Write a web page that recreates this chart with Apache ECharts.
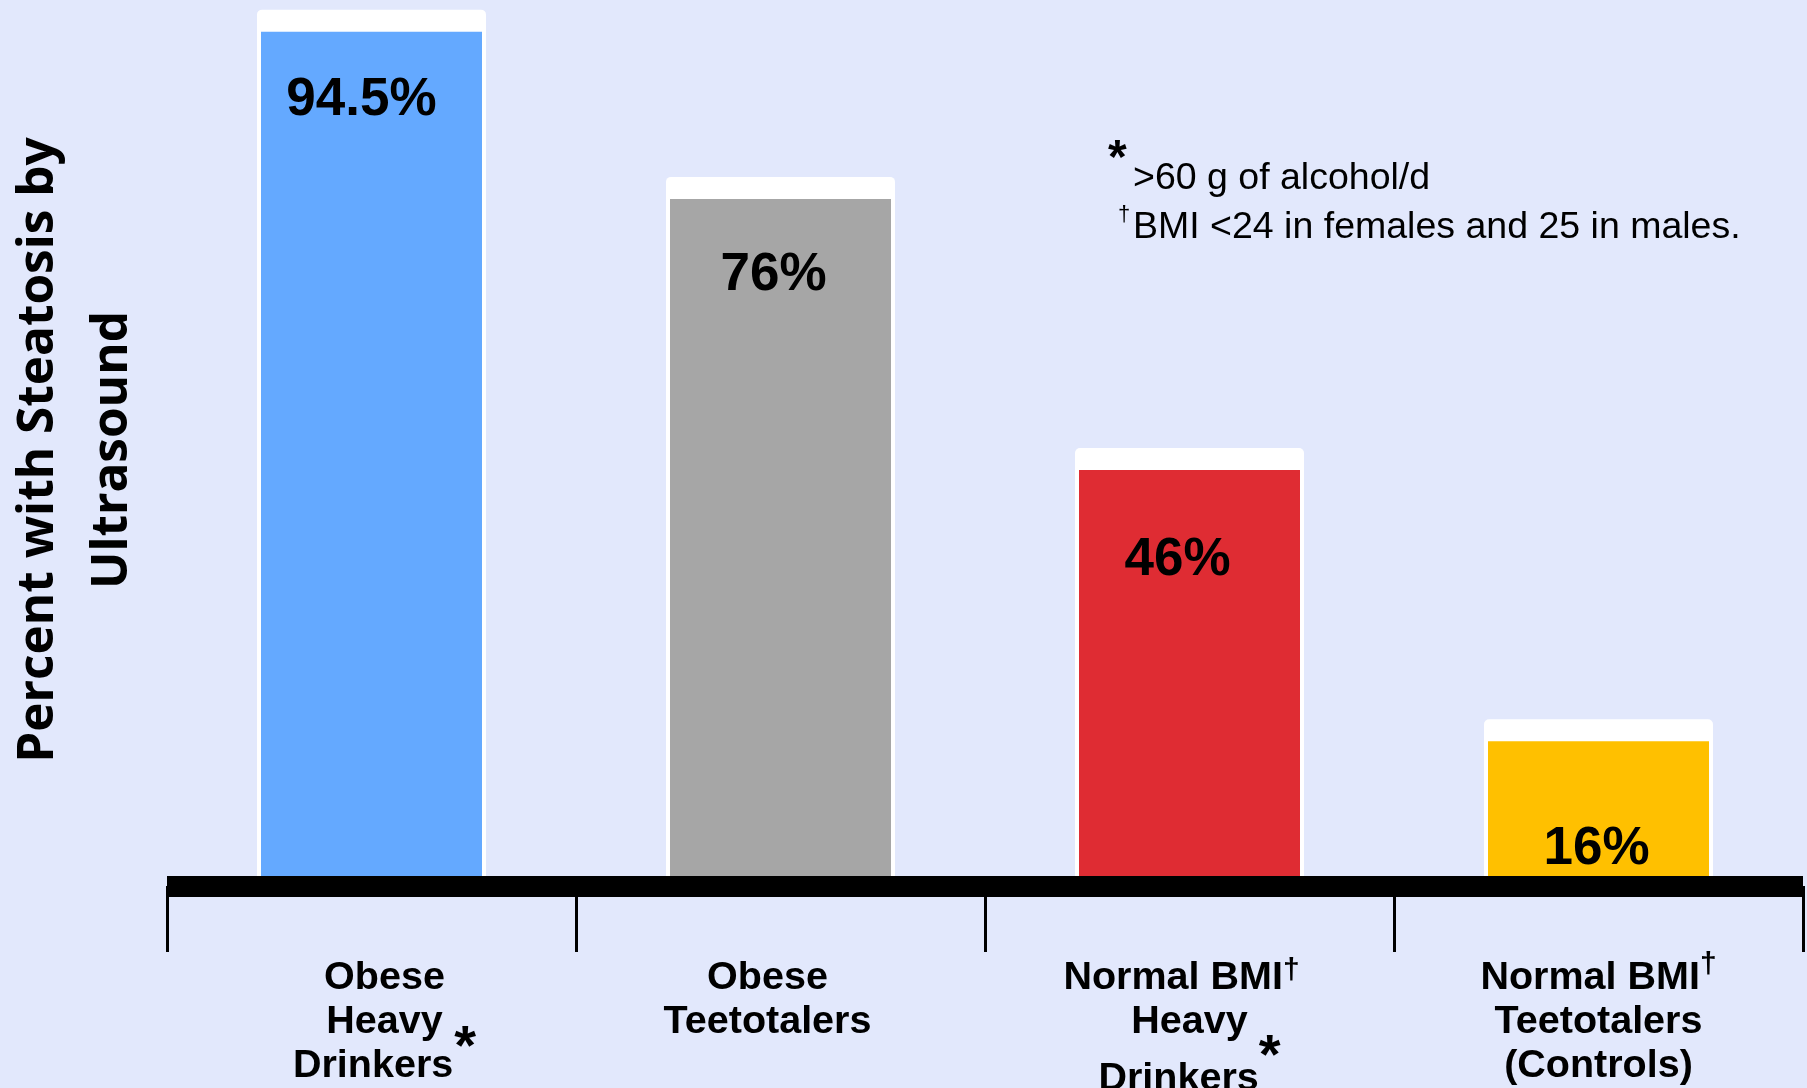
<!DOCTYPE html>
<html>
<head>
<meta charset="utf-8">
<script src="https://cdn.jsdelivr.net/npm/echarts@6/dist/echarts.min.js"></script>
<style>
  html, body { margin: 0; padding: 0; background: #E2E8FC; }
  #chart { width: 1807px; height: 1088px; }
</style>
</head>
<body>
<div id="chart"></div>
<script>
// Groups compared (one bar each)
const categories = [
  'Obese Heavy Drinkers',
  'Obese Teetotalers',
  'Normal BMI Heavy Drinkers',
  'Normal BMI Teetotalers (Controls)'
];
// Multi-line axis labels with footnote markers
const categoryLabels = [
  '{r|Obese}\n{r|Heavy}\n{r|Drinkers}{sup|*}',
  '{l|Obese}\n{l|Teetotalers}',
  'Normal BMI{dag|†}\nHeavy\n{tall|Drinkers}{sup3|*}',
  'Normal BMI{dag4|†}\nTeetotalers\n(Controls)'
];
// Percent with steatosis by ultrasound
const steatosisPct = [94.5, 76, 46, 16];

// Footnotes
const footnoteStar = '>60 g of alcohol/d';
const footnoteDagger = 'BMI <24 in females and 25 in males.';

// ---- styling ----
const barColors = ['#64A9FF', '#A6A6A6', '#DF2C33', '#FFC000'];
const labelDistance = [41, 48, 62, 80];
const labelShiftX = [-10, -7, -12, -2];
const ARIAL = '"Liberation Sans", Arial, sans-serif';
const BAR_W = 221;
const FRAME_W = 229;
const CAP_H = 22;

const catText = { fontFamily: ARIAL, fontWeight: 'bold', fontSize: 39.5, lineHeight: 44, color: '#000' };

const chart = echarts.init(document.getElementById('chart'), null, { renderer: 'canvas' });

chart.setOption({
  backgroundColor: '#E2E8FC',
  animation: false,
  grid: { left: 167, right: 4, top: 0, bottom: 202, containLabel: false, outerBoundsMode: 'none' },
  xAxis: {
    type: 'category',
    data: categories,
    z: 10,
    axisLine: { lineStyle: { color: '#000', width: 21, cap: 'butt' } },
    axisTick: { show: true, length: 66, lineStyle: { color: '#000', width: 3, cap: 'butt' } },
    axisLabel: Object.assign({
      interval: 0,
      margin: 70,
      formatter: (v, i) => categoryLabels[i],
      rich: {
        r: Object.assign({ padding: [0, 0, 0, 26] }, catText),
        l: Object.assign({ padding: [0, 26, 0, 0] }, catText),
        sup: { fontFamily: ARIAL, fontWeight: 'bold', fontSize: 56, lineHeight: 44, height: 10, verticalAlign: 'top', padding: [0, 0, 0, 1], color: '#000' },
        sup3: { fontFamily: ARIAL, fontWeight: 'bold', fontSize: 56, lineHeight: 55, height: 27, verticalAlign: 'top', color: '#000' },
        tall: { fontFamily: ARIAL, fontWeight: 'bold', fontSize: 39.5, lineHeight: 55, verticalAlign: 'bottom', color: '#000' },
        dag: { fontFamily: ARIAL, fontWeight: 'bold', fontSize: 30, lineHeight: 44, height: 29, verticalAlign: 'top', padding: [0, 16, 0, 0], color: '#000' },
        dag4: { fontFamily: ARIAL, fontWeight: 'bold', fontSize: 30, lineHeight: 44, height: 17, verticalAlign: 'top', color: '#000' }
      }
    }, catText)
  },
  yAxis: {
    type: 'value',
    min: 0,
    max: 98,
    axisLine: { show: false },
    axisTick: { show: false },
    axisLabel: { show: false },
    splitLine: { show: false },
    name: 'Percent with Steatosis by\nUltrasound',
    nameLocation: 'middle',
    nameRotate: 90,
    nameGap: 17,
    nameTextStyle: {
      fontFamily: '"Open Sans", sans-serif',
      fontWeight: 'bold',
      fontSize: 49.5,
      lineHeight: 74,
      padding: [0, 14, 0, 0],
      color: '#000'
    }
  },
  series: [
    {
      // white frame with a cap above each bar
      type: 'custom',
      z: 1,
      silent: true,
      data: steatosisPct.map((v, i) => [i, v]),
      renderItem: (params, api) => {
        const top = api.coord([api.value(0), api.value(1)]);
        const base = api.coord([api.value(0), 0]);
        return {
          type: 'rect',
          shape: { x: top[0] - FRAME_W / 2, y: top[1] - CAP_H, width: FRAME_W, height: base[1] - top[1] + CAP_H, r: [5, 5, 0, 0] },
          style: { fill: '#FFFFFF' }
        };
      }
    },
    {
      type: 'bar',
      z: 2,
      barWidth: BAR_W,
      data: steatosisPct.map((v, i) => ({
        value: v,
        itemStyle: { color: barColors[i] },
        label: { distance: labelDistance[i], offset: [labelShiftX[i], 0] }
      })),
      label: {
        show: true,
        position: 'insideTop',
        color: '#000',
        fontFamily: ARIAL,
        fontWeight: 'bold',
        fontSize: 53,
        lineHeight: 56,
        formatter: p => p.value + '%'
      }
    }
  ],
  graphic: [
    { type: 'text', left: 1108, top: 136, style: { text: '*', font: 'bold 48px ' + ARIAL, fill: '#000' } },
    { type: 'text', left: 1133, top: 160, style: { text: footnoteStar, font: '37.5px ' + ARIAL, fill: '#000' } },
    { type: 'text', left: 1118, top: 204, style: { text: '†', font: '22px ' + ARIAL, fill: '#000' } },
    { type: 'text', left: 1133, top: 209, style: { text: footnoteDagger, font: '37.5px ' + ARIAL, fill: '#000' } }
  ]
});
</script>
</body>
</html>
